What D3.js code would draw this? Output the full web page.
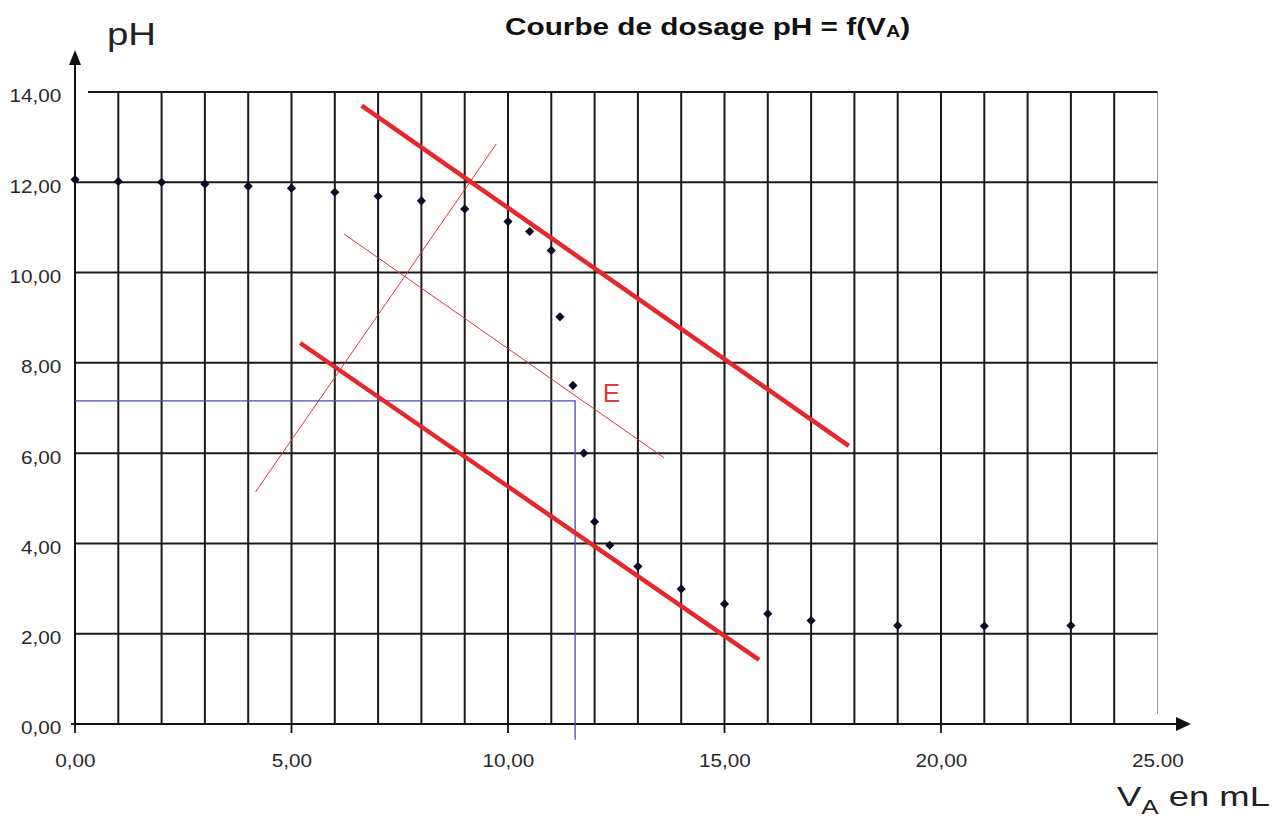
<!DOCTYPE html>
<html>
<head>
<meta charset="utf-8">
<script src="https://cdn.jsdelivr.net/npm/d3@7"></script>
<style>
  body { margin: 0; background: #fff; }
  svg { display: block; font-family: "Liberation Sans", Arial, sans-serif; }
</style>
</head>
<body>
<div id="chart"></div>
<script>
// Mesures du dosage
const volumes = [0, 1, 2, 3, 4, 5, 6, 7, 8, 9, 10, 10.5, 11, 11.2, 11.5, 11.75, 12, 12.35, 13, 14, 15, 16, 17, 19, 21, 23];
const phValues = [12.06, 12.02, 12.0, 11.96, 11.91, 11.87, 11.78, 11.69, 11.59, 11.41, 11.13, 10.91, 10.49, 9.02, 7.5, 6.0, 4.48, 3.96, 3.49, 2.99, 2.66, 2.44, 2.29, 2.18, 2.17, 2.18];

const xTicks = [0, 5, 10, 15, 20, 25];
const xTickLabels = ["0,00", "5,00", "10,00", "15,00", "20,00", "25.00"];
const yTicks = [0, 2, 4, 6, 8, 10, 12, 14];
const yTickLabels = ["0,00", "2,00", "4,00", "6,00", "8,00", "10,00", "12,00", "14,00"];

// Construction des tangentes parallèles (méthode des tangentes)
const tangentHigh = [[6.62, 13.7], [17.87, 6.16]];
const tangentLow = [[5.2, 8.44], [15.8, 1.42]];
const midParallel = [[6.22, 10.85], [13.6, 5.9]];
const perpendicular = [[4.17, 5.14], [9.73, 12.85]];
const equivalence = [11.55, 7.16];

const W = 1287, H = 820;
const svg = d3.select("#chart").append("svg")
    .attr("width", W).attr("height", H);

const x = d3.scaleLinear().domain([0, 25]).range([75, 1157.5]);
const y = d3.scaleLinear().domain([0, 14]).range([724, 92]);

const gridColor = "#1a1a1a";

// quadrillage vertical (tous les 1 mL)
svg.append("g").selectAll("line")
    .data(d3.range(1, 25))
    .enter().append("line")
    .attr("x1", d => x(d)).attr("x2", d => x(d))
    .attr("y1", y(14)).attr("y2", y(0))
    .attr("stroke", gridColor).attr("stroke-width", 2);
svg.append("line")
    .attr("x1", x(25)).attr("x2", x(25))
    .attr("y1", y(14)).attr("y2", y(0) - 10)
    .attr("stroke", "#9a9a9a").attr("stroke-width", 1);

// quadrillage horizontal
svg.append("g").selectAll("line")
    .data(yTicks.slice(1))
    .enter().append("line")
    .attr("x1", d => d === 14 ? x(0.3) : x(0)).attr("x2", x(25))
    .attr("y1", d => y(d)).attr("y2", d => y(d))
    .attr("stroke", gridColor).attr("stroke-width", 2);

// axes avec flèches
svg.append("line")
    .attr("x1", x(0)).attr("x2", 1176)
    .attr("y1", y(0)).attr("y2", y(0))
    .attr("stroke", "#111").attr("stroke-width", 2);
svg.append("path")
    .attr("d", `M1176,${y(0) - 7}L1191,${y(0)}L1176,${y(0) + 7}Z`)
    .attr("fill", "#111");
svg.append("line")
    .attr("x1", x(0)).attr("x2", x(0))
    .attr("y1", y(0)).attr("y2", 64)
    .attr("stroke", "#111").attr("stroke-width", 2);
svg.append("path")
    .attr("d", `M${x(0) - 6},65L${x(0)},50L${x(0) + 6},65Z`)
    .attr("fill", "#111");

// graduations principales de l'axe des abscisses
svg.append("g").selectAll("line")
    .data(xTicks.slice(0, 5))
    .enter().append("line")
    .attr("x1", d => x(d)).attr("x2", d => x(d))
    .attr("y1", y(0)).attr("y2", y(0) + 9)
    .attr("stroke", "#111").attr("stroke-width", 1.8);
svg.append("line")
    .attr("x1", x(0) - 4).attr("x2", x(0))
    .attr("y1", y(0)).attr("y2", y(0))
    .attr("stroke", "#111").attr("stroke-width", 1.8);

// étiquettes des axes via d3.axis
const xAxis = svg.append("g")
    .attr("transform", `translate(0,${y(0)})`)
    .call(d3.axisBottom(x).tickValues(xTicks).tickSize(0).tickPadding(30)
        .tickFormat((d, i) => xTickLabels[i]));
xAxis.select(".domain").remove();
xAxis.selectAll("text")
    .attr("font-size", 18).attr("font-family", "Liberation Sans, Arial, sans-serif")
    .attr("fill", "#2a2a2a")
    .attr("transform", "scale(1.15,1)");

const yAxis = svg.append("g")
    .attr("transform", `translate(${x(0)},0)`)
    .call(d3.axisLeft(y).tickValues(yTicks).tickSize(0).tickPadding(12)
        .tickFormat((d, i) => yTickLabels[i]));
yAxis.select(".domain").remove();
yAxis.selectAll("text")
    .attr("font-size", 18).attr("font-family", "Liberation Sans, Arial, sans-serif")
    .attr("fill", "#2a2a2a")
    .attr("dy", "0.55em")
    .attr("transform", "scale(1.15,1)");

// tracés de construction
const line = d3.line().x(d => x(d[0])).y(d => y(d[1]));
svg.append("path").datum(perpendicular).attr("d", line)
    .attr("stroke", "#d8353a").attr("stroke-width", 1).attr("fill", "none");
svg.append("path").datum(midParallel).attr("d", line)
    .attr("stroke", "#d8353a").attr("stroke-width", 1).attr("fill", "none");
svg.append("path").datum([[0, equivalence[1]], equivalence, [equivalence[0], -0.35]]).attr("d", line)
    .attr("stroke", "#4848c4").attr("stroke-width", 1.3).attr("fill", "none");
[tangentHigh, tangentLow].forEach(t => {
    svg.append("path").datum(t).attr("d", line)
        .attr("stroke", "#e4282c").attr("stroke-width", 4.5).attr("fill", "none");
});

// points de mesure
svg.append("g").selectAll("path")
    .data(volumes.map((v, i) => [v, phValues[i]]))
    .enter().append("path")
    .attr("d", d3.symbol(d3.symbolSquare, 42))
    .attr("transform", d => `translate(${x(d[0])},${y(d[1])}) rotate(45)`)
    .attr("fill", "#0b0b26");

svg.append("text")
    .attr("x", x(12.19)).attr("y", y(7.13))
    .attr("font-size", 26).attr("fill", "#d8403c")
    .text("E");

// titres
const title = svg.append("text")
    .attr("transform", "translate(505,35) scale(1.24,1)")
    .attr("font-size", 24).attr("font-weight", "bold").attr("fill", "#111")
    .text("Courbe de dosage pH = f(V");
title.append("tspan").attr("font-size", 16).attr("dy", 2).text("A");
title.append("tspan").attr("dy", -2).text(")");

svg.append("text")
    .attr("transform", "translate(107,45) scale(1.2,1)")
    .attr("font-size", 32).attr("fill", "#222")
    .text("pH");

const xLabel = svg.append("text")
    .attr("transform", "translate(1117,806) scale(1.3,1)")
    .attr("font-size", 28).attr("fill", "#222")
    .text("V");
xLabel.append("tspan").attr("font-size", 20).attr("dy", 8).text("A");
xLabel.append("tspan").attr("dy", -8).text(" en mL");
</script>
</body>
</html>
